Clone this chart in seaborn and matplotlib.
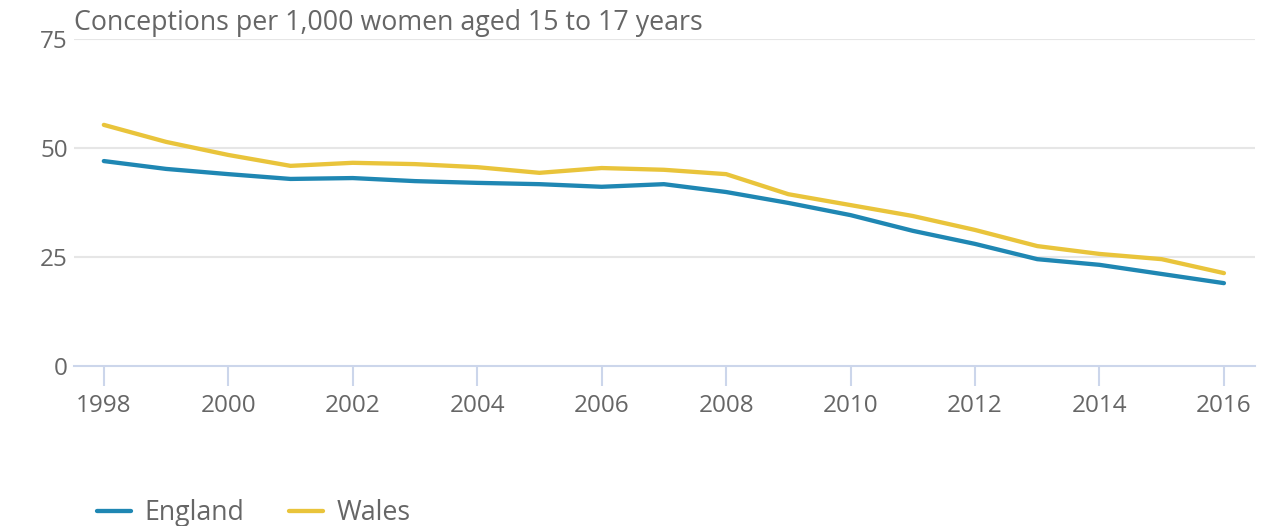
import pandas as pd
import matplotlib
matplotlib.use("Agg")
import matplotlib.pyplot as plt
import seaborn as sns

# values
years = list(range(1998, 2017))
england = [47.0, 45.2, 44.0, 42.9, 43.1, 42.4, 42.0, 41.7, 41.1, 41.7,
           39.9, 37.4, 34.6, 31.0, 28.0, 24.5, 23.2, 21.1, 19.0]
wales = [55.3, 51.4, 48.4, 45.9, 46.6, 46.3, 45.6, 44.3, 45.4, 45.0,
         44.0, 39.4, 36.9, 34.4, 31.2, 27.5, 25.7, 24.5, 21.3]
y_ticks = [0, 25, 50, 75]
x_ticks = list(range(1998, 2017, 2))

df = pd.DataFrame({"Year": years * 2,
                   "Rate": england + wales,
                   "Country": ["England"] * len(years) + ["Wales"] * len(years)})

sns.set_style("white")
plt.rcParams['font.family'] = ['Open Sans', 'DejaVu Sans']
text_col = "#666666"

fig = plt.figure(figsize=(12.62, 5.26), dpi=100)
ax = fig.add_axes([0.0586, 0.3042, 0.9359, 0.6217])

sns.lineplot(data=df, x="Year", y="Rate", hue="Country",
             palette={"England": "#1f87b3", "Wales": "#e9c43b"},
             linewidth=3.1, ax=ax, legend=True)

ax.set_xlim(1997.52, 2016.5)
ax.set_ylim(0, 75)
ax.set_yticks(y_ticks)
ax.set_xticks(x_ticks)
for y in y_ticks[1:]:
    ax.axhline(y, color="#e6e6e6", linewidth=1.5, zorder=0)

for s in ["top", "right", "left"]:
    ax.spines[s].set_visible(False)
ax.spines["bottom"].set_color("#ccd6eb")
ax.spines["bottom"].set_linewidth(1.5)

# seaborn's white style hides the x ticks, switch them back on
ax.tick_params(axis="x", bottom=True, colors=text_col, labelsize=17.5,
               length=14.5, width=1.5, color="#ccd6eb", pad=5.5,
               direction="out")
ax.tick_params(axis="y", left=False, colors=text_col, labelsize=17.5,
               length=0, pad=4.3)
ax.set_xlabel("")
ax.set_ylabel("")

fig.text(0.0586, 0.943, "Conceptions per 1,000 women aged 15 to 17 years",
         fontsize=19.3, color=text_col, ha="left", va="baseline")

handles, labels = ax.get_legend_handles_labels()
for h in handles:
    h.set_linewidth(3.1)
ax.legend(handles, labels, loc="center left", bbox_to_anchor=(0.0769, 0.024),
          bbox_transform=fig.transFigure, frameon=False, ncol=2,
          fontsize=19.3, labelcolor=text_col, handlelength=1.27,
          handletextpad=0.49, columnspacing=1.68, borderpad=0,
          borderaxespad=0)

fig.savefig("out.png", dpi=100)
